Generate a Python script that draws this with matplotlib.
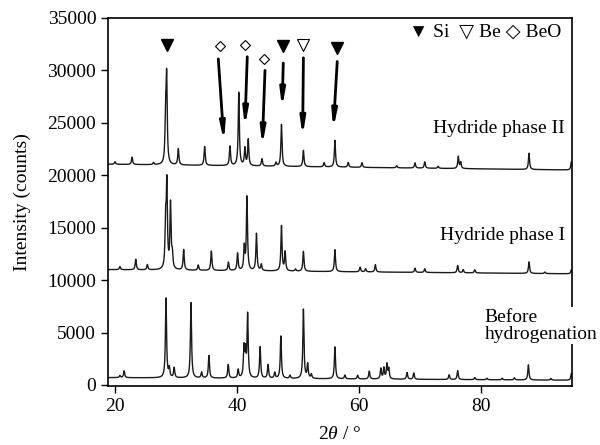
import matplotlib
matplotlib.use('Agg')
import matplotlib.pyplot as plt
import numpy as np

plt.rcParams['font.family'] = ['Liberation Serif', 'DejaVu Sans']
plt.rcParams['mathtext.fontset'] = 'custom'
plt.rcParams['mathtext.it'] = 'Liberation Serif:italic'
plt.rcParams['mathtext.rm'] = 'Liberation Serif'

# peak positions (2theta) and net heights (counts above background)
before_pos = [20.8, 21.5, 28.36, 28.9, 29.7, 32.46, 34.2, 35.4, 38.57, 40.2, 41.15, 41.4, 41.75,
              43.8, 45.1, 46.2, 47.2, 48.7, 50.9, 51.6, 52.2, 56.07, 57.7, 59.8, 61.7, 63.6,
              64.1, 64.6, 64.9, 67.9, 69.0, 74.8, 76.2, 79.0, 81.0, 83.5, 85.5, 87.8, 91.5, 94.85]
before_h = [200, 650, 7600, 850, 950, 7200, 550, 2150, 1300, 800, 2800, 2300, 6000,
            3000, 1300, 550, 4050, 300, 6600, 1350, 400, 3050, 350, 350, 750, 1000,
            1050, 1400, 950, 650, 600, 450, 850, 200, 150, 150, 200, 1450, 150, 650]
before_bg = [700, 450]

phase1_pos = [20.8, 23.4, 25.3, 28.3, 28.5, 29.1, 29.4, 31.26, 33.65, 35.8, 38.6, 40.1, 41.2,
              41.64, 43.2, 44.0, 47.3, 47.9, 49.6, 50.9, 56.07, 60.2, 61.1, 62.7, 69.2, 70.8,
              76.2, 77.1, 79.0, 87.9, 90.5, 94.85]
phase1_h = [300, 1000, 500, 4200, 7900, 6200, 1300, 1950, 500, 1850, 800, 1650, 2200,
            7000, 3550, 600, 4300, 1800, 200, 1900, 2100, 450, 300, 700, 400, 350,
            700, 300, 300, 1100, 150, 400]
phase1_bg = [11000, 10600]

phase2_pos = [20.0, 22.8, 26.3, 28.3, 28.47, 30.38, 34.7, 38.85, 40.3, 41.3, 41.85, 44.1,
              46.4, 47.3, 50.9, 54.3, 56.07, 58.25, 60.5, 66.2, 69.2, 70.8, 73.0, 76.3, 76.7,
              87.9, 94.85]
phase2_h = [250, 700, 200, 4300, 7900, 1550, 1800, 1850, 7000, 1650, 2500, 700,
            350, 4000, 1550, 400, 2550, 450, 450, 200, 500, 600, 200, 1150, 600,
            1550, 800]
phase2_bg = [21050, 20500]

# reflection markers and arrows (tail -> head), in data units
si_marks = [(28.47, 32400), (47.6, 32300), (56.45, 32100)]
be_marks = [(50.9, 32400)]
beo_marks = [(37.2, 32350), (41.4, 32400), (44.5, 31100)]
arrow_tail = [(36.94, 31100), (41.69, 31300), (44.6, 30000), (47.6, 30700), (50.9, 31200), (56.45, 30850)]
arrow_head = [(37.87, 23200), (41.3, 24600), (44.15, 22800), (47.4, 26400), (50.77, 23700), (55.8, 24400)]

x = np.linspace(18.85, 94.95, 9000)


def pattern(pos, h, bg):
    y = np.interp(x, [x[0], x[-1]], bg)
    for p, a in zip(pos, h):
        y = y + a / (1 + ((x - p) / 0.11) ** 2)
    return y


fig = plt.figure(figsize=(6, 4.45), dpi=100)
ax = fig.add_axes([0.18, 0.1326, 0.7733, 0.827])

for pos, h, bg in [(before_pos, before_h, before_bg), (phase1_pos, phase1_h, phase1_bg),
                   (phase2_pos, phase2_h, phase2_bg)]:
    ax.plot(x, pattern(pos, h, bg), color='#1a1a1a', lw=1.0)

ax.plot([m[0] for m in si_marks], [m[1] for m in si_marks], 'v', ms=8, color='k', ls='none')
ax.plot([m[0] for m in be_marks], [m[1] for m in be_marks], 'v', ms=8, mfc='white', mec='k', mew=0.8, ls='none')
ax.plot([m[0] for m in beo_marks], [m[1] for m in beo_marks], 'D', ms=5.5, mfc='white', mec='k', mew=0.8, ls='none')

for t, hd in zip(arrow_tail, arrow_head):
    ax.annotate('', xy=hd, xytext=t,
                arrowprops=dict(arrowstyle='-|>,head_width=0.15,head_length=1.0', lw=2.0, color='k',
                                shrinkA=0, shrinkB=0))

ax.text(93.8, 24500, 'Hydride phase II', ha='right', va='center', fontsize=14)
ax.text(93.8, 14300, 'Hydride phase I', ha='right', va='center', fontsize=14)
ax.text(80.6, 5650, 'Before\nhydrogenation', ha='left', va='center', fontsize=14, linespacing=1.0,
        bbox=dict(facecolor='white', edgecolor='none', pad=1), clip_on=False, zorder=5)
ax.text(68.2, 33700, '\u25bc Si  \u25bd Be \u25c7 BeO', ha='left', va='center', fontsize=14)

ax.set_xlim(18.85, 94.95)
ax.set_ylim(-100, 35000)
ax.set_xticks([20, 40, 60, 80])
ax.set_yticks(np.arange(0, 35001, 5000))
ax.tick_params(direction='out', length=5, width=1, labelsize=14, top=False, right=False)
for s in ax.spines.values():
    s.set_linewidth(1.2)
ax.set_xlabel('$2\\theta$ / \u00b0', fontsize=14, labelpad=8)
ax.set_ylabel('Intensity (counts)', fontsize=14, labelpad=12)

fig.savefig('out.png', dpi=100)
